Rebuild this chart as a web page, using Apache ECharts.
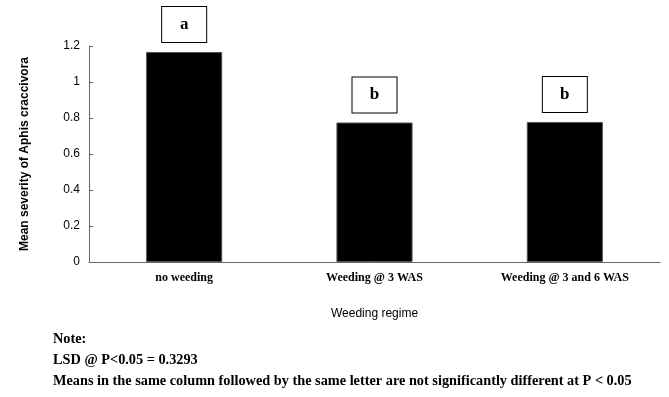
<!DOCTYPE html>
<html>
<head>
<meta charset="utf-8">
<script src="https://cdn.jsdelivr.net/npm/echarts@6/dist/echarts.min.js"></script>
<style>
  html, body { margin: 0; padding: 0; background: #fff; }
  #chart { width: 669px; height: 397px; }
</style>
</head>
<body>
<div id="chart"></div>
<script>
const categories = ['no weeding', 'Weeding @ 3 WAS', 'Weeding @ 3 and 6 WAS']
const severity = [1.167, 0.775, 0.778]
const letters = ['a', 'b', 'b']
const yTicks = { min: 0, max: 1.2, interval: 0.2 }
const notes = [
  'Note:',
  'LSD @ P<0.05 = 0.3293',
  'Means in the same column followed by the same letter are not significantly different at P < 0.05',
]

const myChart = echarts.init(document.getElementById('chart'))

const noteStyle = {
  fill: '#000',
  font: 'bold 14.3px "Liberation Serif", serif',
}

const option = {
  animation: false,
  grid: { left: 89, right: 9, top: 46, bottom: 135 },
  xAxis: {
    type: 'category',
    data: categories,
    name: 'Weeding regime',
    nameLocation: 'middle',
    nameGap: 46,
    nameTextStyle: { fontFamily: 'Liberation Sans, Arial', fontSize: 12, color: '#000' },
    axisLine: { lineStyle: { color: '#666' } },
    axisTick: { inside: true, length: 4, lineStyle: { color: '#666' } },
    axisLabel: {
      margin: 10,
      color: '#000',
      fontFamily: 'Liberation Serif',
      fontWeight: 'bold',
      fontSize: 12,
    },
  },
  yAxis: {
    type: 'value',
    ...yTicks,
    name: 'Mean severity of Aphis craccivora',
    nameLocation: 'middle',
    nameGap: 58,
    nameTextStyle: {
      fontFamily: 'Liberation Sans, Arial',
      fontWeight: 'bold',
      fontSize: 12,
      color: '#000',
    },
    axisLine: { show: true, lineStyle: { color: '#666' } },
    axisTick: { show: true, inside: true, length: 4, lineStyle: { color: '#666' } },
    splitLine: { show: false },
    axisLabel: {
      margin: 9,
      color: '#000',
      fontFamily: 'Liberation Sans, Arial',
      fontSize: 12,
    },
  },
  series: [
    {
      type: 'bar',
      data: severity,
      barWidth: '40%',
      itemStyle: { color: '#000', borderColor: '#555', borderWidth: 1 },
      label: {
        show: true,
        position: 'top',
        distance: 10,
        formatter: (p) => letters[p.dataIndex],
        width: 44,
        height: 35,
        lineHeight: 35,
        borderColor: '#000',
        borderWidth: 1,
        backgroundColor: '#fff',
        color: '#000',
        fontFamily: 'Liberation Serif',
        fontWeight: 'bold',
        fontSize: 17,
      },
    },
  ],
  graphic: notes.map((txt, i) => ({
    type: 'text',
    left: 53,
    top: 332 + i * 21,
    style: { ...noteStyle, text: txt },
  })),
}

myChart.setOption(option)
</script>
</body>
</html>
